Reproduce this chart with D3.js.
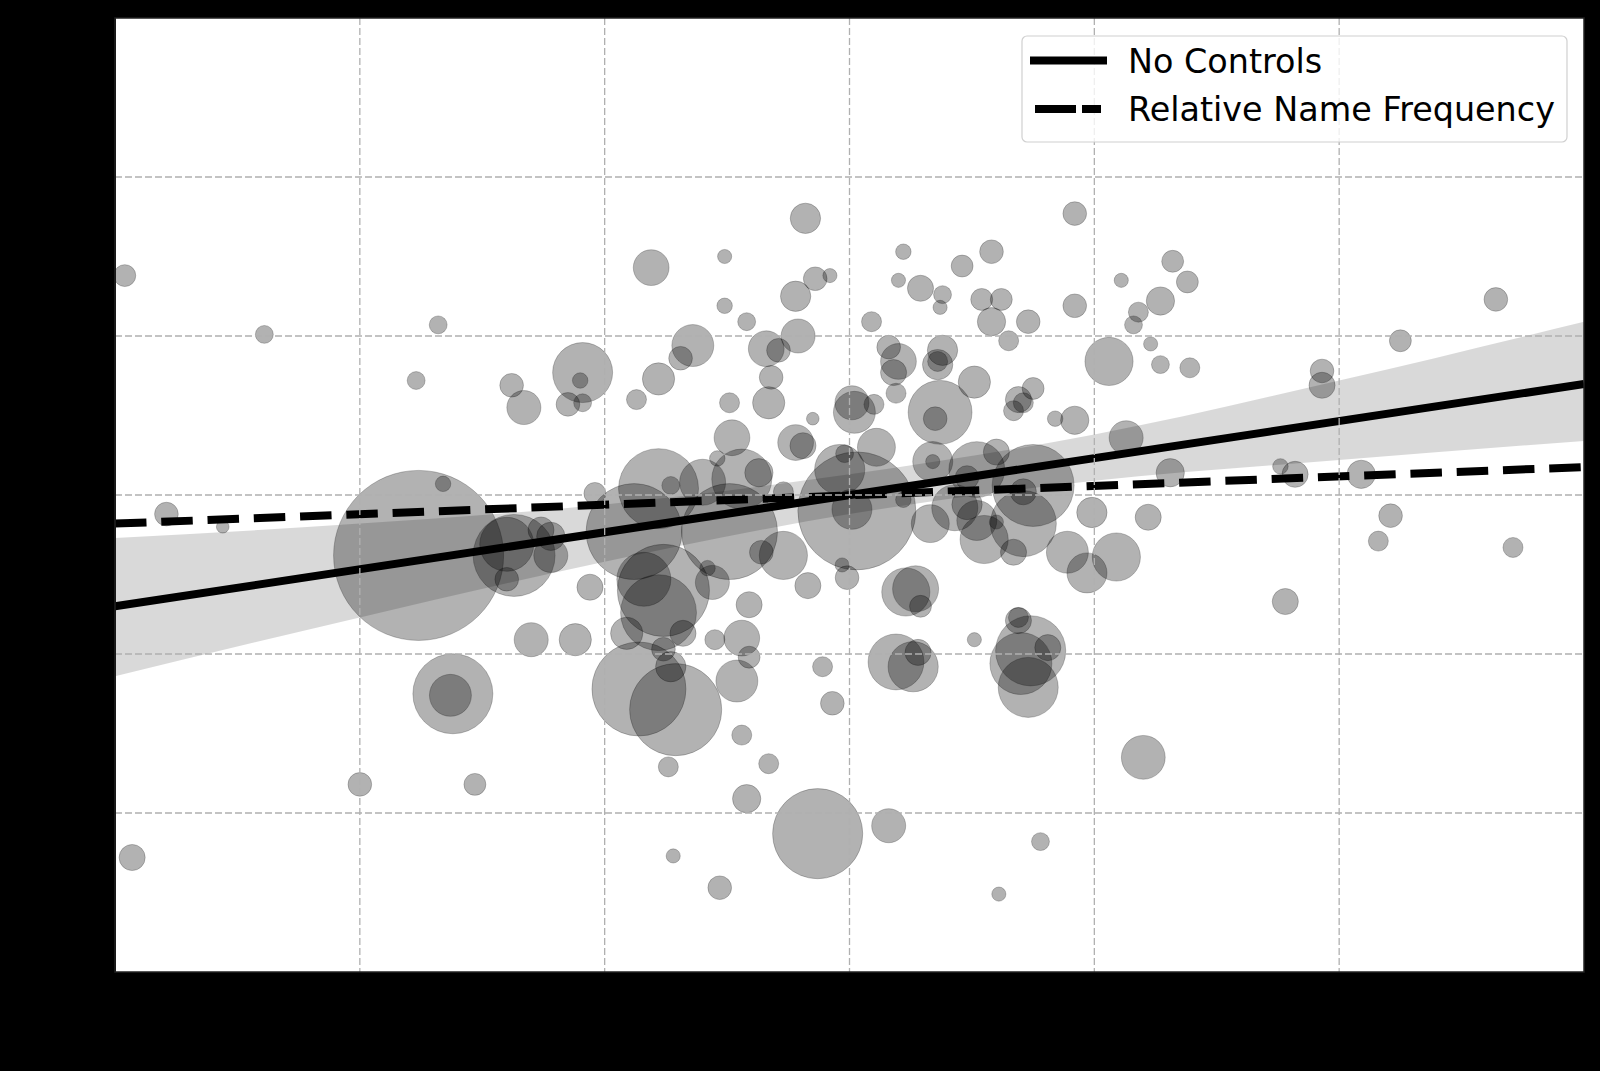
<!DOCTYPE html>
<html><head><meta charset="utf-8">
<script src="https://cdn.jsdelivr.net/npm/d3@7"></script>
<style>html,body{margin:0;padding:0;background:#000;}svg{display:block;}</style>
</head><body>
<script>
// ---- data ----
const pointX = [0.04,0.61,1.32,1.23,1.62,1.67,1.91,1.90,1.85,1.91,1.24,1.34,1.96,0.21,0.44,1.63,1.60,1.60,1.74,1.78,1.78,1.94,1.70,1.88,1.38,1.37,1.00,1.47,0.07,
2.82,2.19,2.49,2.86,2.92,2.78,2.49,2.58,2.36,2.31,2.22,2.13,2.66,2.71,2.79,2.68,2.67,2.51,2.52,2.85,3.01,3.02,3.10,3.09,3.22,3.20,3.29,3.38,3.37,3.46,3.58,3.92,3.54,3.62,3.58,3.73,3.92,3.65,3.16,3.20,3.18,3.19,3.38,3.36,3.36,3.51,3.37,3.35,3.75,3.69,3.71,3.67,3.84,3.92,4.06,
2.78,2.81,3.11,2.98,2.96,2.46,2.56,2.63,2.73,2.40,2.27,2.22,2.51,2.12,3.03,3.01,2.73,2.64,2.83,2.99,2.97,2.44,2.42,2.24,2.16,2.22,2.59,
4.13,4.31,3.34,3.34,3.52,3.60,3.75,3.71,3.48,3.43,3.48,3.52,3.33,3.55,3.71,3.60,3.67,3.89,3.99,4.22,4.09,3.97,3.23,3.27,3.29,3.69,
2.09,2.32,2.24,2.27,2.14,2.29,2.45,2.56,2.59,2.54,2.89,2.93,2.56,2.67,2.26,2.58,2.87,3.16,2.28,2.47,3.78,3.61,3.51,3.19,3.26,3.28,3.69,3.74,3.70,3.73,3.81,
4.32,4.11,4.38,4.27,4.18,4.16,4.23,4.27,4.39,5.64,5.25,4.93,4.93,4.76,4.82,5.09,5.21,5.16,5.71,4.78,4.20,3.22];
const pointY = [4.38,4.01,4.07,3.72,3.69,3.55,3.77,3.72,3.57,3.58,2.62,3.07,3.01,2.88,2.80,2.62,2.69,2.47,2.78,2.74,2.62,2.42,2.09,2.09,1.75,1.74,1.18,1.18,0.72,
4.74,4.43,4.50,4.36,4.38,4.25,4.19,4.09,3.94,3.86,3.73,3.60,3.92,3.91,4.00,3.74,3.58,3.58,3.36,3.48,3.58,3.52,3.57,4.09,4.53,4.35,4.30,4.26,4.18,4.44,4.53,4.77,4.23,4.23,4.09,4.09,4.19,3.97,3.93,3.84,3.77,3.64,3.91,3.82,3.84,3.71,3.52,3.48,3.67,3.60,3.58,3.53,3.48,3.47,3.84,
3.33,3.31,3.30,3.26,3.16,3.23,3.10,3.14,3.02,3.08,3.06,3.04,2.77,2.77,2.90,2.91,2.62,2.64,2.43,2.48,2.56,2.45,2.54,2.40,2.47,2.26,2.31,
3.36,3.14,3.21,3.21,3.16,3.27,3.06,3.02,3.11,2.92,2.94,2.84,2.82,2.72,2.82,2.83,2.64,2.64,2.89,2.86,2.61,2.51,2.39,2.41,2.30,2.23,
2.13,2.13,2.03,1.92,1.78,1.65,2.09,2.10,1.98,1.83,1.92,1.69,1.49,1.31,1.29,1.09,0.87,0.92,0.73,0.53,0.82,0.49,2.09,1.95,1.92,2.01,2.21,2.02,1.94,1.79,2.04,
4.47,4.35,4.34,4.22,4.15,4.07,3.95,3.82,3.80,4.23,3.97,3.78,3.69,3.18,3.13,3.13,2.87,2.71,2.67,2.33,1.35,2.97];
const pointSize = [12,8,8,8,14,29,90,6,14,8,723,6,12,14,4,168,73,14,17,20,29,17,29,26,160,44,14,12,17,
23,32,5,14,5,23,6,8,44,14,26,10,32,14,29,14,26,10,32,4,29,44,10,10,6,5,17,8,5,12,14,14,12,12,20,14,14,10,14,32,17,10,23,23,10,26,102,14,12,17,10,10,6,20,58,
32,17,36,8,63,6,90,20,10,53,8,160,230,230,348,40,58,14,17,14,5,29,6,212,73,144,17,
29,20,40,5,78,17,168,17,14,53,23,40,36,58,109,5,17,44,23,17,58,40,58,53,12,10,
26,17,14,23,221,212,10,32,12,44,10,14,10,10,10,20,203,29,5,14,8,5,5,78,63,17,17,123,96,90,17,
12,5,12,20,10,8,5,8,10,14,12,14,17,6,17,20,14,10,10,17,48,6];

// regression fits: [intercept, slope]
const fitNoControls = [2.30, 0.233];
const fitNameFreq = [2.82, 0.0593];
// confidence band of the "No Controls" fit
const bandX = [0, 1, 2, 3, 4, 5, 6];
const bandUpper = [2.73, 2.82, 2.94, 3.13, 3.38, 3.72, 4.09];
const bandLower = [1.86, 2.23, 2.58, 2.88, 3.09, 3.22, 3.34];
const gridTicks = [1, 2, 3, 4, 5];
const legendLabels = ["No Controls", "Relative Name Frequency"];

// ---- drawing ----
const W = 1600, H = 1071;
const L = 115, R = 1584, T = 18, B = 972;
const svg = d3.select("body").append("svg").attr("width", W).attr("height", H);
svg.append("rect").attr("width", W).attr("height", H).attr("fill", "#000");

const x = d3.scaleLinear().domain([0, 6]).range([L, R]);
const y = d3.scaleLinear().domain([0, 6]).range([B, T]);
const r = d3.scaleSqrt().domain([0, 1000]).range([0, 100]);

svg.append("rect").attr("x", L).attr("y", T).attr("width", R - L).attr("height", B - T).attr("fill", "#fff");

// scatter
const pts = pointX.map((v, i) => ({x: v, y: pointY[i], s: pointSize[i]}));
svg.append("g").selectAll("circle").data(pts).join("circle")
  .attr("cx", d => x(d.x)).attr("cy", d => y(d.y)).attr("r", d => r(d.s))
  .attr("fill", "#000").attr("fill-opacity", 0.3)
  .attr("stroke", "#000").attr("stroke-opacity", 0.22).attr("stroke-width", 1);

// band
const bandData = bandX.map((v, i) => ({x: v, lo: bandLower[i], hi: bandUpper[i]}));
svg.append("path").datum(bandData)
  .attr("d", d3.area().x(d => x(d.x)).y0(d => y(d.lo)).y1(d => y(d.hi)).curve(d3.curveMonotoneX))
  .attr("fill", "#000").attr("fill-opacity", 0.15);

const xDom = x.domain();
const lineGen = d3.line().x(d => x(d[0])).y(d => y(d[1]));
function fitPts(f) { return xDom.map(v => [v, f[0] + f[1] * v]); }
svg.append("path").attr("d", lineGen(fitPts(fitNoControls)))
  .attr("stroke", "#000").attr("stroke-width", 8).attr("fill", "none");
svg.append("path").attr("d", lineGen(fitPts(fitNameFreq)))
  .attr("stroke", "#000").attr("stroke-width", 8).attr("fill", "none")
  .attr("stroke-dasharray", "31.5,14.8");

// grid (drawn above the marks, as in the reference)
const grid = svg.append("g");
grid.selectAll("line.v").data(gridTicks).join("line")
  .attr("x1", d => x(d)).attr("x2", d => x(d)).attr("y1", T).attr("y2", B)
  .attr("stroke", "#b0b0b0").attr("stroke-width", 1.3).attr("stroke-dasharray", "7,3");
grid.selectAll("line.h").data(gridTicks).join("line")
  .attr("y1", d => y(d)).attr("y2", d => y(d)).attr("x1", L).attr("x2", R)
  .attr("stroke", "#b0b0b0").attr("stroke-width", 1.3).attr("stroke-dasharray", "7,3");

// axes (ticks black on black)
svg.append("g").attr("transform", `translate(0,${B})`)
  .call(d3.axisBottom(x).tickValues([0,1,2,3,4,5,6]).tickFormat("").tickSize(7))
  .call(g => g.selectAll("line,path").attr("stroke", "#000"));
svg.append("g").attr("transform", `translate(${L},0)`)
  .call(d3.axisLeft(y).tickValues([0,1,2,3,4,5,6]).tickFormat("").tickSize(7))
  .call(g => g.selectAll("line,path").attr("stroke", "#000"));

// frame
svg.append("rect").attr("x", L).attr("y", T).attr("width", R - L).attr("height", B - T)
  .attr("fill", "none").attr("stroke", "#222").attr("stroke-width", 1.5);

// legend
const lg = svg.append("g");
lg.append("rect").attr("x", 1022).attr("y", 36).attr("width", 545).attr("height", 106)
  .attr("rx", 5).attr("fill", "#fff").attr("fill-opacity", 0.8).attr("stroke", "#d0d0d0").attr("stroke-width", 1.2);
lg.append("line").attr("x1", 1030).attr("x2", 1107).attr("y1", 60.5).attr("y2", 60.5)
  .attr("stroke", "#000").attr("stroke-width", 8);
lg.append("line").attr("x1", 1035).attr("x2", 1101).attr("y1", 109).attr("y2", 109)
  .attr("stroke", "#000").attr("stroke-width", 8).attr("stroke-dasharray", "41,6");
lg.selectAll("text").data(legendLabels).join("text")
  .attr("x", 1128).attr("y", (d, i) => 72.5 + i * 48.5)
  .attr("font-family", "DejaVu Sans").attr("font-size", 33.4).attr("fill", "#000")
  .text(d => d);
</script>
</body></html>
